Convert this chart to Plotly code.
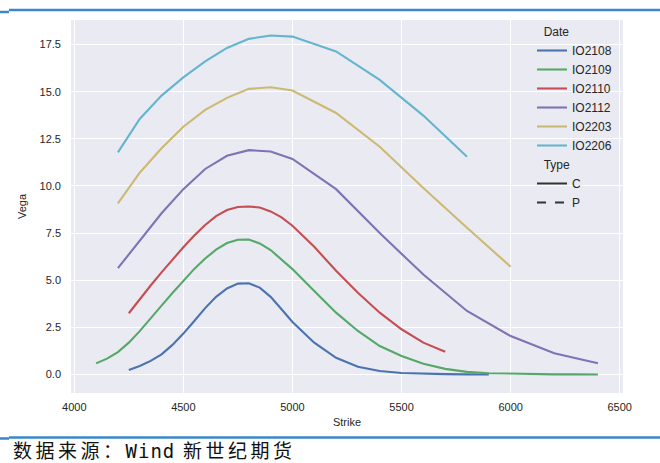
import plotly.graph_objects as go

# ---------------- data ----------------
strikes_io2108 = [4250, 4300, 4350, 4400, 4450, 4500, 4550, 4600, 4650, 4700, 4750, 4800,
                  4850, 4900, 4950, 5000, 5100, 5200, 5300, 5400, 5500, 5600, 5700, 5800, 5900]
vega_io2108 = [0.24, 0.45, 0.72, 1.07, 1.57, 2.17, 2.84, 3.52, 4.12, 4.56, 4.82, 4.84,
               4.61, 4.12, 3.46, 2.79, 1.69, 0.89, 0.41, 0.19, 0.08, 0.04, 0.02, 0.01, 0.005]

strikes_io2109 = [4100, 4150, 4200, 4250, 4300, 4350, 4400, 4450, 4500, 4550, 4600, 4650, 4700,
                  4750, 4800, 4850, 4900, 4950, 5000, 5100, 5200, 5300, 5400, 5500, 5600, 5700,
                  5800, 5900, 6000, 6100, 6200, 6300, 6400]
vega_io2109 = [0.59, 0.84, 1.19, 1.69, 2.3, 2.95, 3.65, 4.32, 4.98, 5.6, 6.15, 6.62, 6.97,
               7.15, 7.16, 6.95, 6.6, 6.12, 5.59, 4.43, 3.28, 2.31, 1.51, 0.98, 0.57, 0.3,
               0.14, 0.07, 0.04, 0.02, 0.01, 0.01, 0.005]

strikes_io2110 = [4250, 4300, 4350, 4400, 4450, 4500, 4550, 4600, 4650, 4700, 4750, 4800,
                  4850, 4900, 4950, 5000, 5100, 5200, 5300, 5400, 5500, 5600, 5700]
vega_io2110 = [3.25, 4.0, 4.72, 5.42, 6.1, 6.75, 7.37, 7.93, 8.4, 8.72, 8.88, 8.91,
               8.86, 8.65, 8.33, 7.89, 6.77, 5.5, 4.34, 3.28, 2.4, 1.69, 1.21]

strikes_io2112 = [4200, 4300, 4400, 4500, 4600, 4700, 4800, 4900, 5000, 5200, 5400, 5600,
                  5800, 6000, 6200, 6400]
vega_io2112 = [5.64, 7.1, 8.55, 9.83, 10.9, 11.6, 11.9, 11.83, 11.43, 9.83, 7.5, 5.3,
               3.37, 2.04, 1.13, 0.6]

strikes_io2203 = [4200, 4300, 4400, 4500, 4600, 4700, 4800, 4900, 5000, 5200, 5400, 5600,
                  5800, 6000]
vega_io2203 = [9.07, 10.7, 12.0, 13.14, 14.03, 14.67, 15.15, 15.23, 15.06, 13.87, 12.08, 9.89,
               7.78, 5.72]

strikes_io2206 = [4200, 4300, 4400, 4500, 4600, 4700, 4800, 4900, 5000, 5200, 5400, 5600, 5800]
vega_io2206 = [11.78, 13.55, 14.79, 15.76, 16.61, 17.32, 17.8, 17.98, 17.92, 17.13, 15.62,
               13.73, 11.55]

contracts = ["IO2108", "IO2109", "IO2110", "IO2112", "IO2203", "IO2206"]
strike_lists = [strikes_io2108, strikes_io2109, strikes_io2110,
                strikes_io2112, strikes_io2203, strikes_io2206]
vega_lists = [vega_io2108, vega_io2109, vega_io2110, vega_io2112, vega_io2203, vega_io2206]
types = ["C", "P"]

x_ticks = [4000, 4500, 5000, 5500, 6000, 6500]
y_ticks = [0.0, 2.5, 5.0, 7.5, 10.0, 12.5, 15.0, 17.5]

# ---------------- style ----------------
colors = ["#4C72B0", "#55A868", "#C44E52", "#8172B2", "#CCB974", "#64B5CD"]
type_dash = ["solid", "dash"]
font_main = "Liberation Sans, Arial, sans-serif"
txt_col = "#262626"

fig = go.Figure()
for name, xs, ys, c in zip(contracts, strike_lists, vega_lists, colors):
    fig.add_trace(go.Scatter(
        x=xs, y=ys, mode="lines", name=name,
        line=dict(color=c, width=2.1),
        legendgroup="date", legendgrouptitle=dict(text="&nbsp;&nbsp;Date"),
    ))
for t, d in zip(types, type_dash):
    fig.add_trace(go.Scatter(
        x=[None], y=[None], mode="lines", name=t,
        line=dict(color="#333333", width=2, dash=d),
        legendgroup="type", legendgrouptitle=dict(text="&nbsp;&nbsp;Type"),
    ))

W, H = 660, 463
ml, mr, mt, mb = 71, 37, 20, 70
pw, ph = W - ml - mr, H - mt - mb

def px_x(p):
    return (p - ml) / pw

def px_y(p):
    return (H - mb - p) / ph

line_col = "#3A88CB"
fig.add_shape(type="line", xref="paper", yref="paper",
              x0=px_x(9), x1=px_x(660), y0=px_y(10), y1=px_y(10),
              line=dict(color=line_col, width=2.5))
fig.add_shape(type="line", xref="paper", yref="paper",
              x0=px_x(0), x1=px_x(9), y0=px_y(12), y1=px_y(12),
              line=dict(color=line_col, width=2.5))
fig.add_shape(type="line", xref="paper", yref="paper",
              x0=px_x(9), x1=px_x(660), y0=px_y(437.5), y1=px_y(437.5),
              line=dict(color=line_col, width=2.5))
fig.add_shape(type="line", xref="paper", yref="paper",
              x0=px_x(0), x1=px_x(9), y0=px_y(438.5), y1=px_y(438.5),
              line=dict(color=line_col, width=2.5))

fig.add_annotation(
    xref="paper", yref="paper", x=px_x(11), y=px_y(449),
    xanchor="left", yanchor="middle", showarrow=False,
    text=("<span style=\"letter-spacing:3.5px\">数据来源：</span>"
          "<span style=\"font-family:'DejaVu Sans Mono', 'Liberation Mono', monospace; letter-spacing:1px\">Wind</span>"
          "<span style=\"letter-spacing:3.5px\"> 新世纪期货</span>"),
    font=dict(family="Noto Sans CJK SC", size=19, color="#111111"),
)

fig.update_layout(
    width=W, height=H,
    margin=dict(l=ml, r=mr, t=mt, b=mb, pad=0),
    paper_bgcolor="white", plot_bgcolor="#EAEAF2",
    font=dict(family=font_main, size=11, color=txt_col),
    showlegend=True,
    legend=dict(
        x=px_x(532), y=px_y(17), xanchor="left", yanchor="top",
        bgcolor="rgba(0,0,0,0)", borderwidth=0,
        font=dict(size=12, color=txt_col), tracegroupgap=0,
        grouptitlefont=dict(size=12, color=txt_col),
        itemwidth=30,
    ),
    xaxis=dict(
        range=[3985, 6515], tickvals=x_ticks, ticktext=[str(v) for v in x_ticks],
        showgrid=True, gridcolor="white", gridwidth=1, zeroline=False,
        showline=False, ticks="", ticklabelstandoff=6,
        title=dict(text="Strike", standoff=6, font=dict(size=11)),
    ),
    yaxis=dict(
        range=[-0.98, 18.8], tickvals=y_ticks, ticktext=[f"{v:.1f}" for v in y_ticks],
        showgrid=True, gridcolor="white", gridwidth=1, zeroline=False,
        showline=False, ticks="", ticklabelstandoff=9,
        title=dict(text="Vega", standoff=10, font=dict(size=11)),
    ),
)

fig.write_html("out.html", config={"displayModeBar": False},
               post_script="document.body.style.margin='0px';")
